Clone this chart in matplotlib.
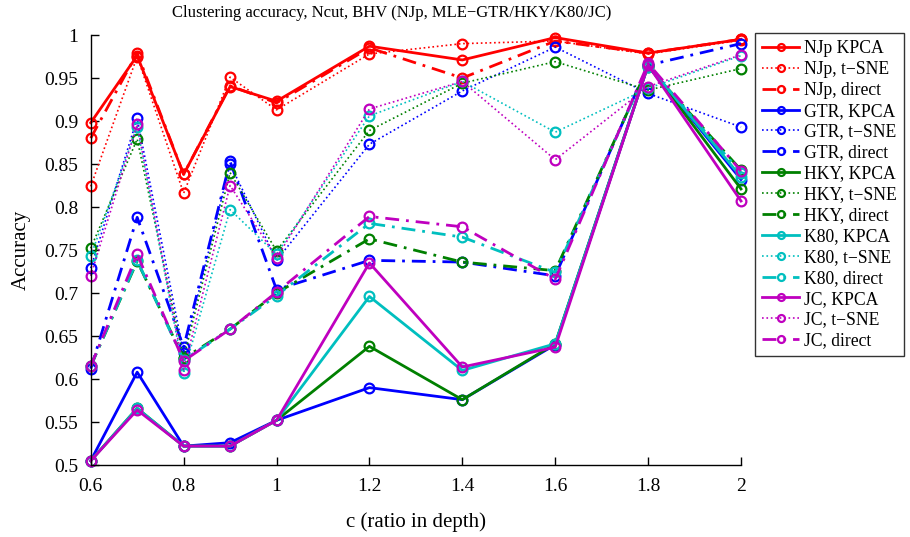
import matplotlib
matplotlib.use("Agg")
import matplotlib.pyplot as plt
from matplotlib.ticker import FuncFormatter

plt.rcParams['font.family'] = ['Liberation Serif', 'DejaVu Serif']

c_vals = [0.6, 0.7, 0.8, 0.9, 1.0, 1.2, 1.4, 1.6, 1.8, 2.0]

njp_kpca   = [0.898, 0.976, 0.838, 0.940, 0.923, 0.987, 0.971, 0.997, 0.979, 0.995]
njp_tsne   = [0.824, 0.975, 0.816, 0.951, 0.913, 0.978, 0.990, 0.993, 0.978, 0.994]
njp_direct = [0.880, 0.979, 0.838, 0.941, 0.921, 0.985, 0.950, 0.993, 0.979, 0.995]

gtr_kpca   = [0.505, 0.608, 0.522, 0.526, 0.552, 0.590, 0.576, 0.640, 0.965, 0.832]
gtr_tsne   = [0.729, 0.903, 0.630, 0.850, 0.738, 0.873, 0.935, 0.986, 0.932, 0.893]
gtr_direct = [0.612, 0.788, 0.637, 0.853, 0.704, 0.738, 0.736, 0.720, 0.965, 0.990]

hky_kpca   = [0.505, 0.566, 0.522, 0.522, 0.552, 0.638, 0.576, 0.641, 0.965, 0.821]
hky_tsne   = [0.752, 0.879, 0.624, 0.840, 0.749, 0.889, 0.944, 0.969, 0.936, 0.961]
hky_direct = [0.615, 0.737, 0.624, 0.658, 0.700, 0.763, 0.736, 0.726, 0.963, 0.843]

k80_kpca   = [0.505, 0.566, 0.522, 0.522, 0.552, 0.696, 0.610, 0.641, 0.965, 0.835]
k80_tsne   = [0.743, 0.893, 0.607, 0.797, 0.745, 0.906, 0.946, 0.887, 0.938, 0.976]
k80_direct = [0.615, 0.738, 0.622, 0.658, 0.697, 0.781, 0.765, 0.724, 0.963, 0.840]

jc_kpca    = [0.505, 0.564, 0.522, 0.522, 0.552, 0.735, 0.614, 0.637, 0.965, 0.807]
jc_tsne    = [0.720, 0.896, 0.611, 0.825, 0.741, 0.914, 0.946, 0.855, 0.940, 0.977]
jc_direct  = [0.615, 0.745, 0.621, 0.658, 0.701, 0.789, 0.777, 0.716, 0.967, 0.842]

x_ticks = [0.6, 0.8, 1.0, 1.2, 1.4, 1.6, 1.8, 2.0]
y_ticks = [0.5, 0.55, 0.6, 0.65, 0.7, 0.75, 0.8, 0.85, 0.9, 0.95, 1.0]

series = [
    ("NJp KPCA", njp_kpca, "#ff0000", "-"),
    ("NJp, t\u2212SNE", njp_tsne, "#ff0000", ":"),
    ("NJp, direct", njp_direct, "#ff0000", "-."),
    ("GTR, KPCA", gtr_kpca, "#0000ff", "-"),
    ("GTR, t\u2212SNE", gtr_tsne, "#0000ff", ":"),
    ("GTR, direct", gtr_direct, "#0000ff", "-."),
    ("HKY, KPCA", hky_kpca, "#008000", "-"),
    ("HKY, t\u2212SNE", hky_tsne, "#008000", ":"),
    ("HKY, direct", hky_direct, "#008000", "-."),
    ("K80, KPCA", k80_kpca, "#00bfbf", "-"),
    ("K80, t\u2212SNE", k80_tsne, "#00bfbf", ":"),
    ("K80, direct", k80_direct, "#00bfbf", "-."),
    ("JC, KPCA", jc_kpca, "#bf00bf", "-"),
    ("JC, t\u2212SNE", jc_tsne, "#bf00bf", ":"),
    ("JC, direct", jc_direct, "#bf00bf", "-."),
]

fig = plt.figure(figsize=(9.1, 5.37), dpi=100)
ax = fig.add_axes([0.0997, 0.134, 0.7146, 0.8008])

for label, vals, col, ls in series:
    lw = 1.2 if ls == ":" else 2.0
    kw = dict(color=col, linewidth=lw, marker='o', markersize=7,
              markerfacecolor='none', markeredgewidth=1.6, label=label,
              clip_on=False)
    if ls == "-.":
        ax.plot(c_vals, vals, dashes=(5, 2.5, 1, 2.5), **kw)
    else:
        ax.plot(c_vals, vals, linestyle=ls, **kw)

ax.set_xlim(0.6, 2.0)
ax.set_ylim(0.5, 1.0)
ax.set_xticks(x_ticks)
ax.set_yticks(y_ticks)
fmt = FuncFormatter(lambda v, p: "%g" % round(v, 3))
ax.xaxis.set_major_formatter(fmt)
ax.yaxis.set_major_formatter(fmt)
ax.tick_params(direction='in', length=6, width=1, labelsize=14, pad=9)
for s in ['top', 'right']:
    ax.spines[s].set_visible(False)
for s in ['left', 'bottom']:
    ax.spines[s].set_linewidth(1.0)

ax.set_xlabel("c (ratio in depth)", fontsize=15, labelpad=13)
ax.set_ylabel("Accuracy", fontsize=15, labelpad=10)
fig.text(0.43, 0.975, "Clustering accuracy, Ncut, BHV (NJp, MLE\u2212GTR/HKY/K80/JC)",
         ha='center', va='center', fontsize=12)

leg = fig.legend(loc='upper left', bbox_to_anchor=(755/910, 1 - 33/537),
                 fontsize=12.7, frameon=True, fancybox=False, edgecolor='black',
                 handlelength=2.1, handletextpad=0.3, labelspacing=0.22,
                 borderpad=0.4, borderaxespad=0)
leg.get_frame().set_linewidth(1.0)
for h in leg.legend_handles:
    h.set_markersize(5)

fig.savefig("out.png", dpi=100)
